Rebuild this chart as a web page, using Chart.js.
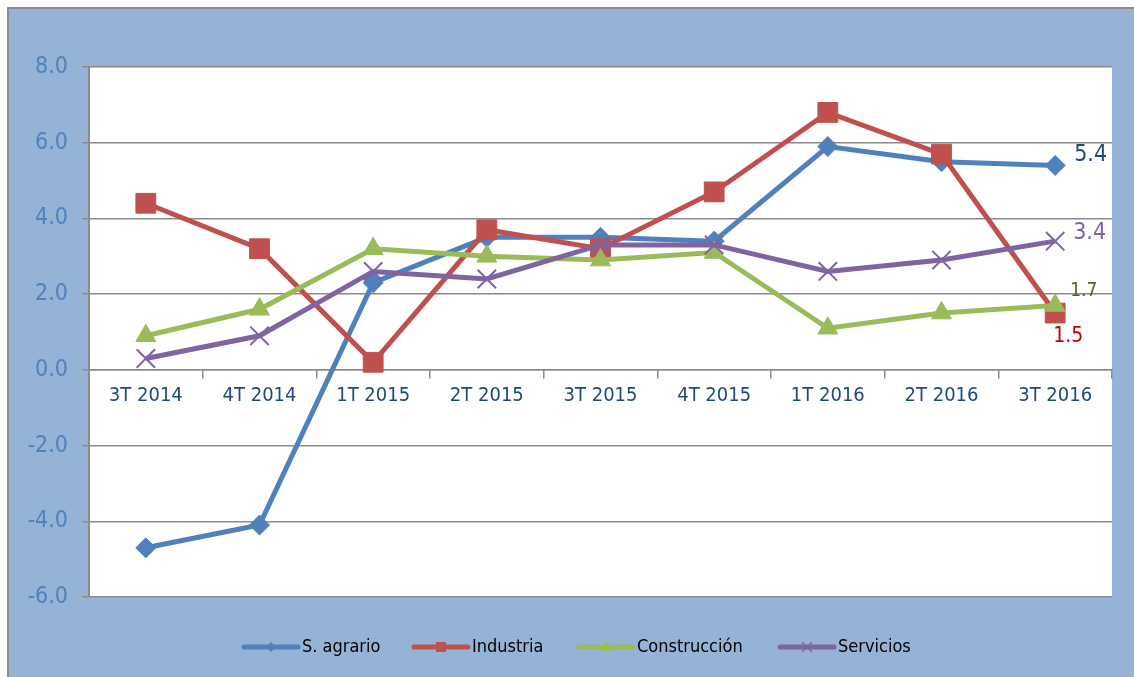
<!DOCTYPE html>
<html><head><meta charset="utf-8">
<script src="https://cdn.jsdelivr.net/npm/chart.js@4"></script>
<style>html,body{margin:0;padding:0;background:#fff;} canvas{display:block}</style>
</head><body><canvas id="c" width="1134" height="677"></canvas>
<script>
const categories = ['3T 2014','4T 2014','1T 2015','2T 2015','3T 2015','4T 2015','1T 2016','2T 2016','3T 2016'];
const agrario = [-4.7,-4.1,2.3,3.5,3.5,3.4,5.9,5.5,5.4];
const industria = [4.4,3.2,0.2,3.7,3.2,4.7,6.8,5.7,1.5];
const construccion = [0.9,1.6,3.2,3.0,2.9,3.1,1.1,1.5,1.7];
const servicios = [0.3,0.9,2.6,2.4,3.3,3.3,2.6,2.9,3.4];
const seriesNames = ['S. agrario','Industria','Construcción','Servicios'];
const yTicks = [-6,-4,-2,0,2,4,6,8];

const FONT = "'DejaVu Sans Condensed', 'DejaVu Sans', sans-serif";
const COLORS = ['#4F81BD','#C0504D','#9BBB59','#8064A2'];
const GRID = '#8a8a8a';

const bgPlugin = {
  id:'bg',
  beforeDraw(chart){
    const ctx = chart.ctx, a = chart.chartArea;
    ctx.save();
    ctx.fillStyle = '#fff'; ctx.fillRect(0,0,chart.width,chart.height);
    ctx.fillStyle = '#95B3D7'; ctx.fillRect(9,9,chart.width-9,chart.height-9);
    ctx.fillStyle = '#8c8c8c'; ctx.fillRect(7,7,chart.width-7,2); ctx.fillRect(7,7,2,chart.height-7);
    ctx.fillStyle = '#fff'; ctx.fillRect(a.left,a.top,a.right-a.left,a.bottom-a.top);
    ctx.restore();
  }
};

const lastLabelCfg = [
  {ds:0, color:'#1F497D', size:23, dx:19, dy:-10, align:'left'},
  {ds:1, color:'#C00000', size:21, dx:13, dy:23, align:'center'},
  {ds:2, color:'#4F6228', size:19, dx:15, dy:-14, align:'left'},
  {ds:3, color:'#8064A2', size:23, dx:18, dy:-8, align:'left'}
];
const labelPlugin = {
  id:'lastLabels',
  afterDatasetsDraw(chart){
    const ctx = chart.ctx;
    ctx.save();
    lastLabelCfg.forEach(c => {
      const meta = chart.getDatasetMeta(c.ds);
      const data = chart.data.datasets[c.ds].data;
      const i = data.length - 1;
      const pt = meta.data[i];
      ctx.font = c.size + 'px ' + FONT;
      ctx.fillStyle = c.color;
      ctx.textAlign = c.align;
      ctx.textBaseline = 'middle';
      ctx.fillText(data[i].toFixed(1), pt.x + c.dx, pt.y + c.dy);
    });
    ctx.restore();
  }
};

const legendLayout = [
  {x0:244, x1:298, tx:302},
  {x0:414, x1:468, tx:472},
  {x0:579, x1:633, tx:637},
  {x0:780, x1:834, tx:838}
];
const legendPlugin = {
  id:'customLegend',
  afterDraw(chart){
    const ctx = chart.ctx, y = 647;
    ctx.save();
    chart.data.datasets.forEach((ds, k) => {
      const L = legendLayout[k];
      ctx.strokeStyle = ds.borderColor; ctx.lineWidth = 5; ctx.lineCap = 'round';
      ctx.beginPath(); ctx.moveTo(L.x0, y); ctx.lineTo(L.x1, y); ctx.stroke();
      const cx = (L.x0 + L.x1)/2;
      ctx.fillStyle = ds.borderColor; ctx.strokeStyle = ds.borderColor;
      ctx.lineCap = 'butt';
      ctx.beginPath();
      if (ds.pointStyle === 'rectRot') { ctx.moveTo(cx-5,y); ctx.lineTo(cx,y-5); ctx.lineTo(cx+5,y); ctx.lineTo(cx,y+5); ctx.closePath(); ctx.fill(); }
      else if (ds.pointStyle === 'rect') { ctx.rect(cx-5,y-5,10,10); ctx.fill(); }
      else if (ds.pointStyle === 'triangle') { ctx.moveTo(cx,y-6); ctx.lineTo(cx+5.5,y+4); ctx.lineTo(cx-5.5,y+4); ctx.closePath(); ctx.fill(); }
      else { ctx.lineWidth = 1.5; ctx.moveTo(cx-5,y-5); ctx.lineTo(cx+5,y+5); ctx.moveTo(cx+5,y-5); ctx.lineTo(cx-5,y+5); ctx.stroke(); }
      ctx.font = '18px ' + FONT; ctx.fillStyle = '#000'; ctx.textAlign = 'left'; ctx.textBaseline = 'middle';
      ctx.fillText(ds.label, L.tx, y);
    });
    ctx.restore();
  }
};

const seriesData = [agrario, industria, construccion, servicios];
const styles = [
  {pointStyle:'rectRot', pointRadius:10, pointBorderWidth:1},
  {pointStyle:'rect', pointRadius:14, pointBorderWidth:1},
  {pointStyle:'triangle', pointRadius:11.5, pointBorderWidth:1},
  {pointStyle:'crossRot', pointRadius:13, pointBorderWidth:2}
];

new Chart(document.getElementById('c'), {
  type:'line',
  data:{
    labels: categories,
    datasets: seriesData.map((d,k) => Object.assign({
      label: seriesNames[k], data: d,
      borderColor: COLORS[k], backgroundColor: COLORS[k],
      pointBackgroundColor: COLORS[k], pointBorderColor: COLORS[k],
      borderWidth: 5, tension: 0, fill:false, order: 4 - k
    }, styles[k]))
  },
  options:{
    responsive:false, animation:false, devicePixelRatio:1,
    layout:{padding:{left:0, top:67, right:22, bottom:80}},
    plugins:{legend:{display:false}, tooltip:{enabled:false}},
    scales:{
      x:{
        type:'category', position:{y:0}, offset:true,
        grid:{display:true, drawOnChartArea:false, drawTicks:true, tickLength:8, color:GRID, lineWidth:1.5, offset:true},
        border:{display:true, color:GRID, width:1.5},
        ticks:{color:'#1F497D', font:{family:FONT, size:20}, padding:6, maxRotation:0, autoSkip:false}
      },
      y:{
        min:-6, max:8,
        afterBuildTicks: s => { s.ticks = yTicks.map(v => ({value:v})); },
        afterFit: s => { s.width = 89; },
        grid:{color:GRID, lineWidth:1.5, tickLength:7},
        border:{display:true, color:GRID, width:2},
        ticks:{color:'#4F81BD', font:{family:FONT, size:23}, padding:14, callback: v => Number(v).toFixed(1)}
      }
    }
  },
  plugins:[bgPlugin, labelPlugin, legendPlugin]
});
</script>
</body></html>
